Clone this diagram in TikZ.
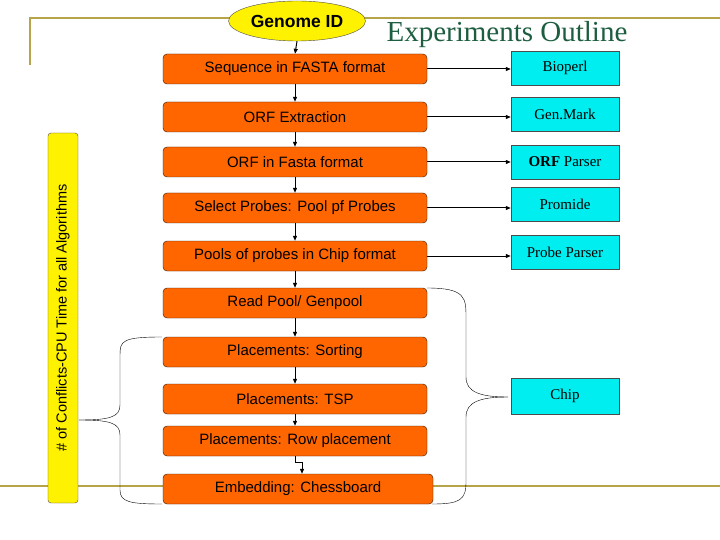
\documentclass[tikz,border=0pt]{standalone}
\usepackage{fontspec}
\setmainfont{Liberation Sans}
\newfontfamily\serifrm{Liberation Serif}
\usetikzlibrary{arrows.meta,shapes.geometric}
\definecolor{org}{HTML}{FF6600}
\definecolor{cy}{HTML}{00EEF0}
\definecolor{oli}{HTML}{B8A448}
\definecolor{ttl}{HTML}{1E5E40}
\begin{document}
\begin{tikzpicture}[x=1pt,y=-1pt,
  ob/.style={draw=black!80!org,fill=org,rounded corners=4pt,minimum width=264pt,minimum height=30pt,inner sep=0pt,font=\fontsize{15}{17}\selectfont},
  cb/.style={draw=black!70,fill=cy,minimum width=108pt,minimum height=34pt,inner sep=0pt,font=\serifrm\fontsize{15}{17}\selectfont},
  ar/.style={-{Triangle[length=5pt,width=4pt]},line width=1pt},
  br/.style={draw,thin}]
\useasboundingbox (0,0) rectangle (720,540);
\fill[white] (0,0) rectangle (720,540);
% olive frame lines
\draw[oli,line width=2pt] (30,65) -- (30,18) -- (720,18);
\draw[oli,line width=2pt] (0,486) -- (720,486);
% title
\node[font=\serifrm\fontsize{29}{32}\selectfont,text=ttl,anchor=west] (title) at (383,35) {Experiments Outline};
% yellow side label
\node[draw=black!70,fill=yellow,rounded corners=3pt,minimum width=370pt,minimum height=30pt,inner sep=0pt,rotate=90,font=\fontsize{14.5}{16}\selectfont] (side) at (63,318) {\# of Conflicts-CPU Time for all Algorithms};
% genome id
\node[draw=black!70,fill=yellow,ellipse,minimum width=137pt,minimum height=40pt,inner sep=0pt,font=\bfseries\fontsize{17.5}{19}\selectfont] (g) at (297,21) {Genome ID};
% orange boxes
\node[ob] (o1) at (295,69) {Sequence in FASTA format};
\node[ob] (o2) at (295,117) {ORF Extraction};
\node[ob] (o3) at (295,162) {ORF in Fasta format};
\node[ob] (o4) at (295,208) {Select Probes: Pool pf Probes};
\node[ob] (o5) at (295,256) {Pools of probes in Chip format};
\node[ob] (o6) at (295,303) {Read Pool/ Genpool};
\node[ob] (o7) at (295,352) {Placements: Sorting};
\node[ob] (o8) at (295,399) {Placements: TSP};
\node[ob] (o9) at (295,441) {Placements: Row placement};
\node[ob,minimum width=270pt] (o10) at (298,489) {Embedding: Chessboard};
% cyan boxes
\node[cb] (c1) at (565,68) {Bioperl};
\node[cb] (c2) at (565,114) {Gen.Mark};
\node[cb] (c3) at (565,162) {\textbf{ORF} Parser};
\node[cb] (c4) at (565,204) {Promide};
\node[cb] (c5) at (565,252) {Probe Parser};
\node[cb,minimum height=36pt] (c6) at (565,396) {Chip};
% vertical arrows
\draw[ar] (g.south) -- (o1.north);
\foreach \a/\b in {o1/o2,o2/o3,o3/o4,o4/o5,o5/o6,o6/o7,o7/o8,o8/o9}{
  \draw[ar] (\a.south) -- (\b.north);}
\draw[ar] (o9.south) -- ++(0,6) -| ([xshift=4pt]o10.north);
% horizontal arrows
\foreach \i in {1,...,5}{
  \draw[ar] (o\i.east) -- (o\i.east -| c\i.west);}
% right brace
\coordinate (rt) at (427,288);
\coordinate (rb) at (432,504);
\coordinate (rtip) at (508,397);
\draw[br] (rt) .. controls (466,288) and (466,298) .. (466,318) -- (466,377)
  .. controls (466,392) and (480,397) .. (rtip);
\draw[br] (rtip) .. controls (480,397) and (466,402) .. (466,417) -- (466,482)
  .. controls (466,500) and (460,504) .. (rb);
% left brace
\coordinate (lt) at (162,337);
\coordinate (lb) at (162,504);
\coordinate (ltip) at (79,420);
\draw[br] (lt) .. controls (122,337) and (120,341) .. (120,355) -- (120,405)
  .. controls (120,417) and (110,420) .. (ltip);
\draw[br] (ltip) .. controls (110,420) and (120,423) .. (120,435) -- (120,490)
  .. controls (120,502) and (130,504) .. (lb);
\end{tikzpicture}
\end{document}
